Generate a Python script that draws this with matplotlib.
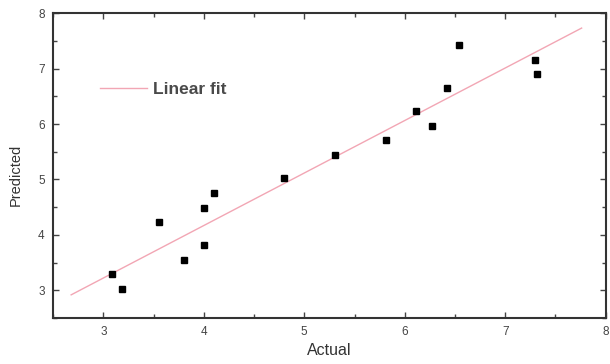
import matplotlib.pyplot as plt
from matplotlib.ticker import MultipleLocator

plt.rcParams['font.family'] = ['Liberation Sans', 'DejaVu Sans']

# measured vs. model output
actual = [3.09, 3.19, 3.55, 3.80, 4.00, 4.00, 4.10, 4.80, 5.31, 5.81,
          6.11, 6.27, 6.42, 6.54, 7.30, 7.32]
predicted = [3.29, 3.03, 4.23, 3.55, 4.48, 3.81, 4.75, 5.03, 5.45, 5.71,
             6.23, 5.97, 6.65, 7.43, 7.16, 6.91]

# end points of the fitted line
fit_x = [2.68, 7.76]
fit_y = [2.92, 7.73]

fig = plt.figure(figsize=(6.10, 3.64), dpi=100)
ax = fig.add_axes([0.087, 0.126, 0.906, 0.838])

ax.plot(fit_x, fit_y, color='#f2a6b4', lw=1.0, label='Linear fit')
ax.plot(actual, predicted, 's', color='black', ms=4.8, mec='black')

ax.set_xlim(2.5, 8)
ax.set_ylim(2.5, 8)
ax.xaxis.set_major_locator(MultipleLocator(1))
ax.xaxis.set_minor_locator(MultipleLocator(0.5))
ax.yaxis.set_major_locator(MultipleLocator(1))
ax.yaxis.set_minor_locator(MultipleLocator(0.5))
ax.tick_params(which='both', direction='in', top=True, right=True,
               colors='#444444', labelsize=8.5, width=1.0)
ax.tick_params(which='major', length=4, pad=6)
ax.tick_params(which='minor', length=3)
for s in ax.spines.values():
    s.set_linewidth(1.5)
    s.set_color('#333333')

ax.set_xlabel('Actual', fontsize=11.5, color='#333333', labelpad=3)
ax.set_ylabel('Predicted', fontsize=10.5, color='#333333')
ax.yaxis.set_label_coords(-0.055, 0.47)

ax.legend(loc='center left', bbox_to_anchor=(0.085, 0.751), frameon=False,
          borderpad=0, borderaxespad=0, handlelength=2.7, handletextpad=0.35,
          prop={'size': 12.5, 'weight': 'bold'}, labelcolor='#4a4a4a')

fig.savefig('out.png', dpi=100)
